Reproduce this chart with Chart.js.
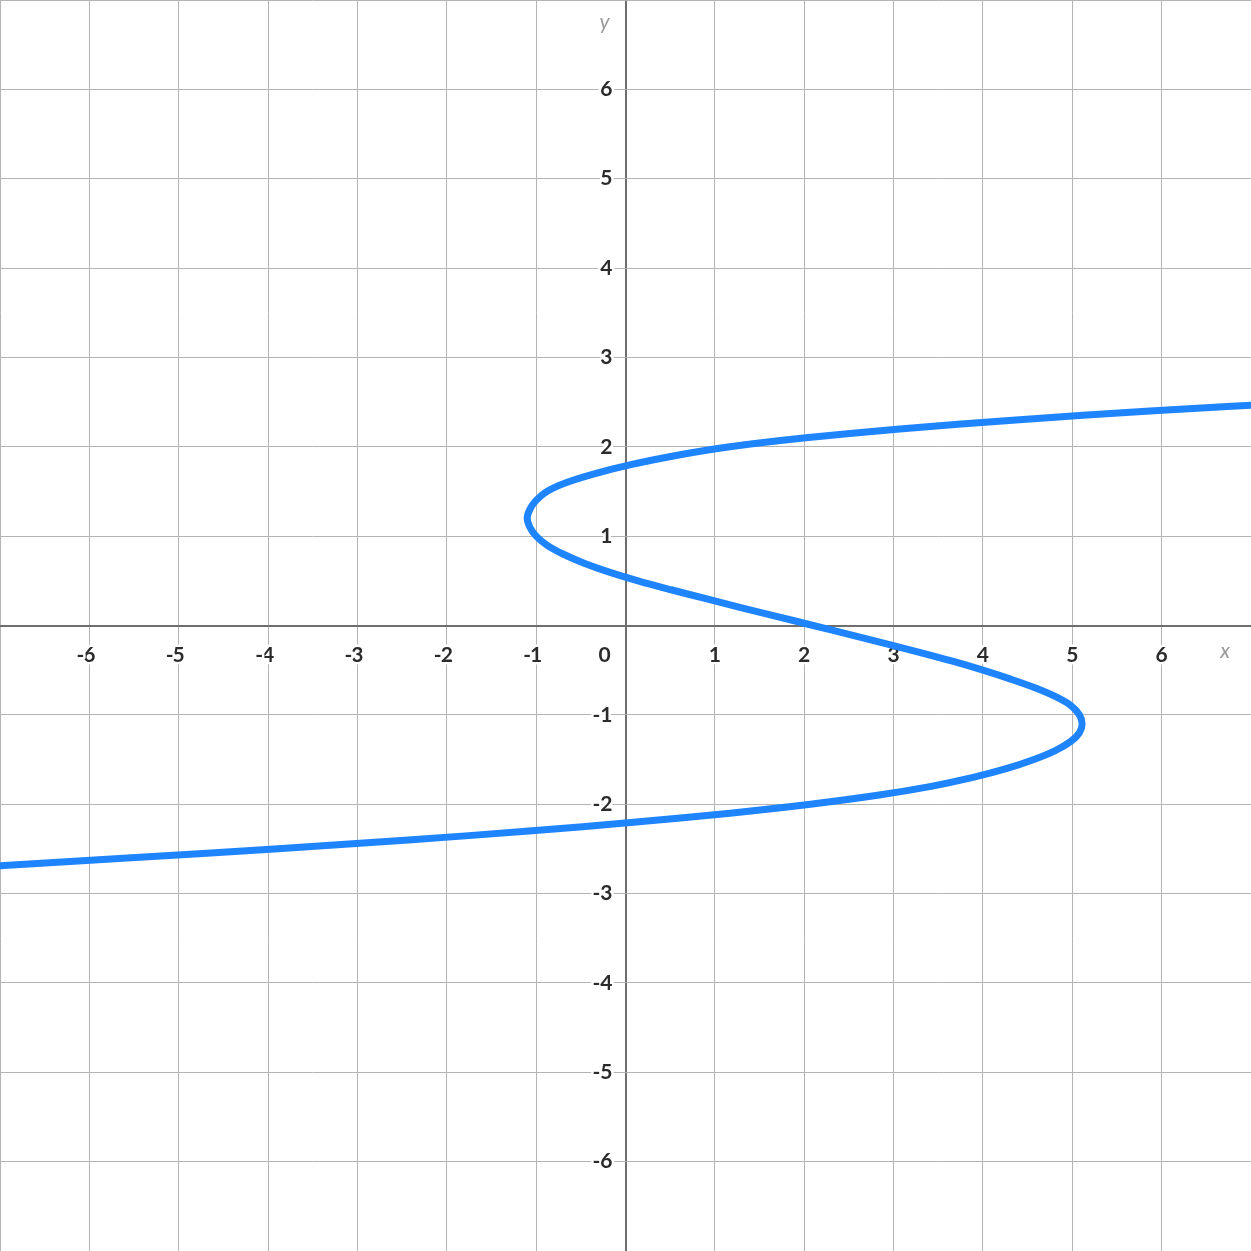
<!DOCTYPE html>
<html>
<head>
<meta charset="utf-8">
<script src="https://cdn.jsdelivr.net/npm/chart.js@4"></script>
<style>
  body { margin: 0; background: #fff; }
  #wrap { width: 1251px; height: 1251px; }
</style>
</head>
<body>
<div id="wrap"><canvas id="graf"></canvas></div>
<script>
// curve: x value at each y (y step 0.1)
let noktaY = [-2.7, -2.6, -2.5, -2.4, -2.3, -2.2, -2.1, -2.0, -1.9, -1.8, -1.7, -1.6, -1.5, -1.4, -1.3, -1.2, -1.1, -1.0,
  -0.9, -0.8, -0.7, -0.6, -0.5, -0.4, -0.3, -0.2, -0.1, 0, 0.1, 0.2, 0.3, 0.4, 0.5, 0.6, 0.7, 0.8, 0.9, 1.0,
  1.1, 1.2, 1.3, 1.4, 1.5, 1.6, 1.7, 1.8, 1.9, 2.0, 2.1, 2.2, 2.3, 2.4, 2.5];
let noktaX = [-7.18, -5.53, -3.93, -2.43, -1.08, 0.12, 1.17, 2.07, 2.82, 3.42, 3.89, 4.27, 4.57, 4.81, 4.98, 5.08, 5.11, 5.08,
  4.99, 4.82, 4.59, 4.31, 4.0, 3.66, 3.29, 2.90, 2.50, 2.10, 1.70, 1.29, 0.90, 0.51, 0.14, -0.19, -0.47, -0.70, -0.88, -1.00,
  -1.07, -1.10, -1.07, -1.0, -0.88, -0.66, -0.34, 0.06, 0.55, 1.17, 2.02, 3.07, 4.37, 5.87, 7.6];

let xEtiket = [-6, -5, -4, -3, -2, -1, 1, 2, 3, 4, 5, 6];
let yEtiket = [-6, -5, -4, -3, -2, -1, 1, 2, 3, 4, 5, 6];

let noktalar = noktaX.map((x, i) => ({ x: x, y: noktaY[i] }));

let yaziFont = 'bold 21px Lato, "Open Sans", sans-serif';

function yaz(ctx, metin, x, y, hiza) {
  ctx.textAlign = hiza;
  ctx.strokeText(metin, x, y);
  ctx.fillText(metin, x, y);
}

let etiketler = {
  id: 'etiketler',
  beforeDatasetsDraw(chart) {
    let ctx = chart.ctx;
    let sx = chart.scales.x, sy = chart.scales.y;
    let x0 = sx.getPixelForValue(0), y0 = sy.getPixelForValue(0);
    ctx.save();
    ctx.font = yaziFont;
    ctx.textBaseline = 'middle';
    ctx.fillStyle = '#2b2b2b';
    ctx.strokeStyle = '#ffffff';
    ctx.lineWidth = 5;
    ctx.lineJoin = 'round';
    // x axis labels, digit centred on the grid line
    xEtiket.forEach(v => {
      let px = sx.getPixelForValue(v);
      let rakam = String(Math.abs(v));
      let w = ctx.measureText(rakam).width;
      yaz(ctx, rakam, px, y0 + 30, 'center');
      if (v < 0) yaz(ctx, '-', px - w / 2 + 1, y0 + 30, 'right');
    });
    // y axis labels
    yEtiket.forEach(v => {
      let py = sy.getPixelForValue(v);
      yaz(ctx, String(v), x0 - 13, py, 'right');
    });
    yaz(ctx, '0', x0 - 21, y0 + 30, 'center');
    // axis names
    ctx.font = 'italic 21px Lato, "Open Sans", sans-serif';
    ctx.fillStyle = '#9a9a9a';
    yaz(ctx, 'x', sx.right - 26, y0 + 26, 'center');
    yaz(ctx, 'y', x0 - 21, sy.top + 22, 'center');
    ctx.restore();
  }
};

function izgaraRenk(c) { return c.tick && c.tick.value === 0 ? '#6e6e6e' : '#b4b4b4'; }
function izgaraKalin(c) { return c.tick && c.tick.value === 0 ? 2 : 1; }

let grafik = new Chart(document.getElementById('graf'), {
  type: 'scatter',
  data: {
    datasets: [{
      data: noktalar,
      showLine: true,
      borderColor: '#1e84ff',
      borderWidth: 7,
      pointRadius: 0,
      tension: 0.35,
      fill: false
    }]
  },
  options: {
    responsive: true,
    maintainAspectRatio: false,
    animation: false,
    layout: { padding: 0 },
    plugins: { legend: { display: false }, tooltip: { enabled: false } },
    scales: {
      x: {
        type: 'linear', min: -7, max: 7,
        ticks: { display: false, stepSize: 1 },
        grid: { color: izgaraRenk, lineWidth: izgaraKalin, drawTicks: false },
        border: { display: false }
      },
      y: {
        type: 'linear', min: -7, max: 7,
        ticks: { display: false, stepSize: 1 },
        grid: { color: izgaraRenk, lineWidth: izgaraKalin, drawTicks: false },
        border: { display: false }
      }
    }
  },
  plugins: [etiketler]
});
</script>
</body>
</html>
